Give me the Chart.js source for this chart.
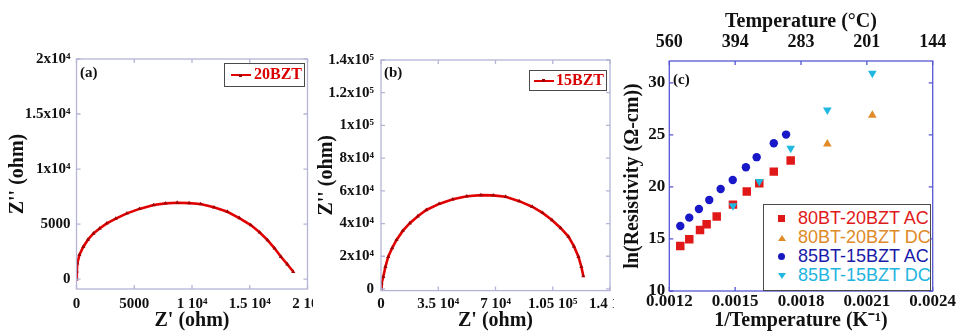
<!DOCTYPE html>
<html>
<head>
<meta charset="utf-8">
<script src="https://cdn.jsdelivr.net/npm/chart.js@4.4.0/dist/chart.umd.min.js"></script>
<style>
  body { margin: 0; background: #fff; width: 959px; height: 333px; overflow: hidden; position: relative; }
  canvas { position: absolute; top: 0; }
  .tag { position: absolute; font: bold 15px "Liberation Serif", serif; color: #111; }
  .box { position: absolute; background: #fff; border: 1.5px solid #4a4a4a; box-sizing: border-box; }
  .imp { font: bold 16px "Liberation Serif", serif; color: #d80000; position: absolute; top: 1px; }
  .sample { position: absolute; height: 2px; background: #e00000; }
  .dot { position: absolute; width: 3px; height: 3px; background: #a00000; }
  .row { position: absolute; left: 34px; font: 18px "Liberation Sans", Arial, sans-serif; line-height: 19px; white-space: nowrap; }
  .mk { position: absolute; }
</style>
</head>
<body>
<canvas id="chart-a" width="313" height="333" style="left:0"></canvas>
<canvas id="chart-b" width="301" height="333" style="left:313px"></canvas>
<canvas id="chart-c" width="343" height="333" style="left:616px"></canvas>

<div class="tag" style="left:80px;top:64px">(a)</div>
<div class="tag" style="left:384px;top:64px">(b)</div>
<div class="tag" style="left:673px;top:71px">(c)</div>

<div class="box" style="left:224px;top:63px;width:81px;height:24px">
  <div class="sample" style="left:6px;top:10px;width:20px"></div>
  <div class="dot" style="left:14px;top:9.5px"></div>
  <div class="imp" style="left:29px">20BZT</div>
</div>
<div class="box" style="left:529px;top:70px;width:78px;height:21px">
  <div class="sample" style="left:4px;top:8.5px;width:20px"></div>
  <div class="dot" style="left:12px;top:8px"></div>
  <div class="imp" style="left:26px;top:0">15BZT</div>
</div>

<div class="box" style="left:763px;top:204px;width:168px;height:87px">
  <div class="mk" style="left:14px;top:10px;width:7px;height:7px;background:#e01818"></div>
  <div class="row" style="top:4px;color:#e01a1a">80BT-20BZT AC</div>
  <div class="mk" style="left:14px;top:30px;width:0;height:0;border-left:4px solid transparent;border-right:4px solid transparent;border-bottom:6px solid #e08a28"></div>
  <div class="row" style="top:23px;color:#e08a28">80BT-20BZT DC</div>
  <div class="mk" style="left:14px;top:48px;width:7px;height:7px;border-radius:50%;background:#1818c0"></div>
  <div class="row" style="top:42px;color:#1a1aa8">85BT-15BZT AC</div>
  <div class="mk" style="left:14px;top:68px;width:0;height:0;border-left:4px solid transparent;border-right:4px solid transparent;border-top:6px solid #20b8e0"></div>
  <div class="row" style="top:61px;color:#22b4e0">85BT-15BZT DC</div>
</div>

<script>
// (a) 20BZT impedance
var zReA = [0, 30, 72, 250, 593, 1000, 1464, 2000, 2623, 3400, 4365, 5450, 6680, 7700, 8713, 9750, 10740, 11900, 13060, 14100, 15090, 15850, 16540, 17150, 17700, 18250, 18770]
var zImA = [0, 700, 1424, 2200, 2940, 3600, 4150, 4600, 5060, 5500, 5970, 6380, 6727, 6880, 6936, 6900, 6818, 6520, 6120, 5550, 4910, 4250, 3545, 2800, 2030, 1350, 664]

// (b) 15BZT impedance
var zReB = [0, 400, 1400, 2700, 4430, 6800, 9500, 13300, 17600, 22500, 27700, 35500, 43900, 52500, 61080, 68600, 76200, 84500, 92400, 98800, 104500, 109800, 114600, 118000, 120700, 122500, 123700]
var zImB = [0, 3500, 7500, 13500, 19700, 25000, 30000, 35500, 40200, 44500, 48300, 52000, 54800, 56700, 57400, 57200, 56400, 53700, 50300, 46500, 42200, 37300, 32000, 26000, 19700, 13500, 7900]

// (c) resistivity vs 1/T
var invT20ac = [0.00125, 0.001291, 0.00134, 0.00137, 0.001416, 0.00149, 0.001553, 0.00161, 0.001676, 0.001753]
var rho20ac = [14.33, 14.97, 15.87, 16.41, 17.15, 18.3, 19.55, 20.35, 21.47, 22.53]
var invT20dc = [0.00192, 0.002125]
var rho20dc = [24.13, 26.89]
var invT15ac = [0.00125, 0.001291, 0.001335, 0.001382, 0.001434, 0.001489, 0.001549, 0.001598, 0.001676, 0.001732]
var rho15ac = [16.25, 17.05, 17.88, 18.75, 19.8, 20.67, 21.89, 22.86, 24.2, 25.03]
var invT15dc = [0.00149, 0.00161, 0.001753, 0.00192, 0.002125]
var rho15dc = [18.2, 20.51, 23.72, 27.4, 30.93]

var aXTicks = [0, 5000, 10000, 15000, 20000]
var aXLabels = ['0', '5000', '1 10⁴', '1.5 10⁴', '2 10⁴']
var aYTicks = [0, 5000, 10000, 15000, 20000]
var aYLabels = ['0', '5000', '1x10⁴', '1.5x10⁴', '2x10⁴']
var bXTicks = [0, 35000, 70000, 105000, 140000]
var bXLabels = ['0', '3.5 10⁴', '7 10⁴', '1.05 10⁵', '1.4 10⁵']
var bYTicks = [0, 20000, 40000, 60000, 80000, 100000, 120000, 140000]
var bYLabels = ['0', '2x10⁴', '4x10⁴', '6x10⁴', '8x10⁴', '1x10⁵', '1.2x10⁵', '1.4x10⁵']
var cXTicks = [0.0012, 0.0015, 0.0018, 0.0021, 0.0024]
var cXLabels = ['0.0012', '0.0015', '0.0018', '0.0021', '0.0024']
var cTopLabels = ['560', '394', '283', '201', '144']
var cYTicks = [10, 15, 20, 25, 30]
var cYLabels = ['10', '15', '20', '25', '30']

var serif = '"Liberation Serif", "Times New Roman", serif'
var tickFont = { family: serif, weight: 'bold', size: 15 }
var titleFont = { family: serif, weight: 'bold', size: 20 }

var points = function(xs, ys) {
  return xs.map(function(x, i) { return { x: x, y: ys[i] } })
}

var fixedSize = function(size) {
  return function(scale) {
    if (scale.isHorizontal()) scale.height = size
    else scale.width = size
    scale.paddingLeft = scale.paddingRight = scale.paddingTop = scale.paddingBottom = 0
  }
}

var axis = function(o) {
  return {
    type: 'linear',
    position: o.position,
    min: o.min,
    max: o.max,
    afterFit: fixedSize(o.size),
    afterBuildTicks: function(scale) {
      scale.ticks = o.ticks.map(function(v) { return { value: v } })
    },
    grid: { display: false, drawTicks: false },
    border: { display: false },
    ticks: {
      autoSkip: false, maxRotation: 0, padding: o.pad, color: '#111',
      font: o.font || tickFont,
      callback: function(v, i) { return o.labels[i] }
    },
    title: {
      display: true, text: o.title, color: '#111', font: titleFont,
      padding: { top: o.titlePad, bottom: 0 }
    }
  }
}

// frame and inward tick marks on all four sides
var framePlugin = {
  id: 'frame',
  afterDraw: function(chart, args, opts) {
    var ctx = chart.ctx
    var a = chart.chartArea
    var len = 4
    ctx.save()
    ctx.strokeStyle = opts.color
    ctx.lineWidth = 1.3
    ctx.strokeRect(a.left, a.top, a.right - a.left, a.bottom - a.top)
    ctx.beginPath()
    chart.scales.x.ticks.forEach(function(t) {
      var px = chart.scales.x.getPixelForValue(t.value)
      ctx.moveTo(px, a.bottom); ctx.lineTo(px, a.bottom - len)
      ctx.moveTo(px, a.top); ctx.lineTo(px, a.top + len)
    })
    chart.scales.y.ticks.forEach(function(t) {
      var py = chart.scales.y.getPixelForValue(t.value)
      ctx.moveTo(a.left, py); ctx.lineTo(a.left + len, py)
      ctx.moveTo(a.right, py); ctx.lineTo(a.right - len, py)
    })
    ctx.stroke()
    ctx.restore()
  }
}

var impedanceSet = function(xs, ys) {
  return {
    data: points(xs, ys),
    showLine: true,
    borderColor: '#e00000',
    borderWidth: 2.6,
    pointStyle: 'triangle',
    pointRadius: 2.4,
    pointBackgroundColor: '#a00000',
    pointBorderColor: '#a00000',
    pointBorderWidth: 0
  }
}

var baseOptions = function(padding, frameColor, scales) {
  return {
    responsive: false,
    animation: false,
    devicePixelRatio: 1,
    layout: { padding: padding },
    plugins: {
      legend: { display: false },
      tooltip: { enabled: false },
      frame: { color: frameColor }
    },
    scales: scales
  }
}

new Chart(document.getElementById('chart-a'), {
  type: 'scatter',
  data: { datasets: [impedanceSet(zReA, zImA)] },
  options: baseOptions({ top: 59, right: 5.5, left: 0, bottom: 0 }, '#b4b4d8', {
    x: axis({ position: 'bottom', min: 0, max: 20000, size: 44, ticks: aXTicks, labels: aXLabels, pad: 6, title: "Z' (ohm)", titlePad: 0 }),
    y: axis({ position: 'left', min: -900, max: 20000, size: 76.5, ticks: aYTicks, labels: aYLabels, pad: 6, title: "Z'' (ohm)", titlePad: 6 })
  }),
  plugins: [framePlugin]
})

new Chart(document.getElementById('chart-b'), {
  type: 'scatter',
  data: { datasets: [impedanceSet(zReB, zImB)] },
  options: baseOptions({ top: 60, right: 2, left: 0, bottom: 0 }, '#b4b4d8', {
    x: axis({ position: 'bottom', min: 0, max: 140000, size: 42.4, ticks: bXTicks, labels: bXLabels, pad: 5, title: "Z' (ohm)", titlePad: 0 }),
    y: axis({ position: 'left', min: -1000, max: 140000, size: 68, ticks: bYTicks, labels: bYLabels, pad: 7, title: "Z'' (ohm)", titlePad: 2 })
  }),
  plugins: [framePlugin]
})

var markerSet = function(xs, ys, color, style, radius, rotation, order) {
  return {
    data: points(xs, ys),
    pointStyle: style,
    pointRadius: radius,
    rotation: rotation,
    pointBackgroundColor: color,
    pointBorderColor: color,
    pointBorderWidth: 0,
    order: order
  }
}

var cFont = { family: serif, weight: 'bold', size: 17 }

new Chart(document.getElementById('chart-c'), {
  type: 'scatter',
  data: {
    datasets: [
      markerSet(invT20ac, rho20ac, '#e01818', 'rect', 6, 0, 4),
      markerSet(invT20dc, rho20dc, '#e08a28', 'triangle', 5, 0, 3),
      markerSet(invT15ac, rho15ac, '#1818c8', 'circle', 4.2, 0, 2),
      markerSet(invT15dc, rho15dc, '#20b8e0', 'triangle', 5, 180, 1)
    ]
  },
  options: baseOptions({ top: 0, right: 26.3, left: 0, bottom: 0 }, '#5656d4', {
    x: axis({ position: 'bottom', min: 0.0012, max: 0.0024, size: 42, ticks: cXTicks, labels: cXLabels, pad: 0, font: cFont, title: '1/Temperature (K⁻¹)', titlePad: 0 }),
    x2: axis({ position: 'top', min: 0.0012, max: 0.0024, size: 61, ticks: cXTicks, labels: cTopLabels, pad: 8, font: { family: serif, weight: 'bold', size: 18 }, title: 'Temperature (°C)', titlePad: 10 }),
    y: axis({ position: 'left', min: 10, max: 32.1, size: 53.3, ticks: cYTicks, labels: cYLabels, pad: 4, font: cFont, title: 'ln(Resistivity (Ω-cm))', titlePad: 5 })
  }),
  plugins: [framePlugin]
})
</script>
</body>
</html>
